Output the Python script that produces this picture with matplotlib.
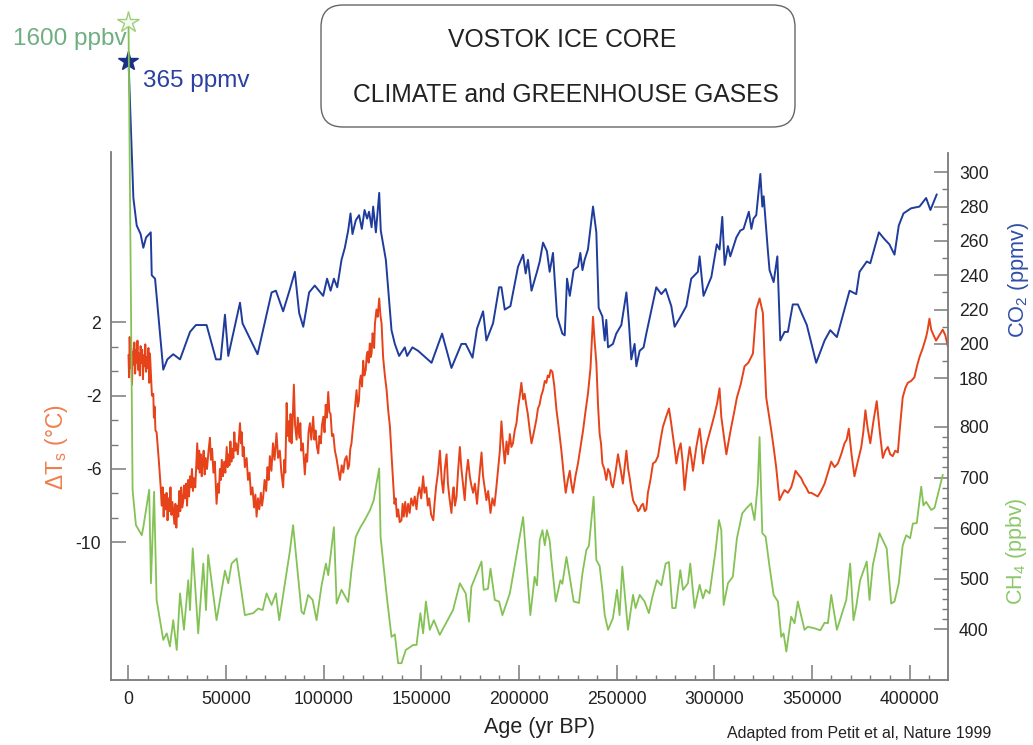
import matplotlib
matplotlib.use("Agg")
import matplotlib.pyplot as plt
from matplotlib.patches import FancyBboxPatch
from matplotlib.ticker import FixedLocator, FixedFormatter

plt.rcParams['font.family'] = ['Liberation Sans', 'DejaVu Sans']
plt.rcParams['mathtext.fontset'] = 'custom'
plt.rcParams['mathtext.rm'] = 'Liberation Sans'
plt.rcParams['axes.unicode_minus'] = False

# age in kyr BP, value
co2_data = [
    (0.0, 365), (2.5, 285), (4.2, 269), (6.2, 264), (7.6, 256), (9.0, 262), (11.4, 265), (11.9, 240),
    (13.6, 238), (17.8, 185), (19.9, 191), (22.9, 194), (26.4, 191), (31.5, 207), (34.5, 211), (40.0, 211),
    (44.8, 191), (47.2, 191), (49.4, 217), (51.1, 193), (57.1, 224), (58.4, 212), (66.1, 194), (73.3, 230),
    (75.5, 231), (79.2, 219), (82.7, 232), (85.2, 242), (87.4, 218), (89.5, 210), (92.5, 230), (95.4, 234),
    (99.7, 228), (101.7, 238), (103.5, 231), (105.2, 238), (106.9, 233), (109.1, 249), (110.8, 256),
    (112.5, 266), (113.7, 276), (114.7, 264), (116.4, 272), (118.1, 275), (119.5, 267), (120.9, 278),
    (122.2, 273), (123.2, 277), (124.5, 268), (125.3, 280), (126.7, 265), (128.4, 288), (129.2, 266),
    (131.8, 249), (134.7, 208), (136.4, 200), (138.6, 193), (141.5, 198), (142.7, 193), (145.4, 198),
    (148.3, 196), (155.2, 189), (160.6, 206), (165.4, 186), (170.5, 200), (172.7, 200), (176.2, 192),
    (178.5, 209), (181.6, 219), (183.3, 202), (186.7, 212), (189.8, 233), (191.0, 233), (192.7, 220),
    (195.6, 222), (199.5, 245), (202.1, 252), (203.4, 241), (204.6, 249), (206.4, 231), (209.2, 242),
    (210.6, 248), (212.3, 259), (214.3, 254), (215.7, 242), (217.4, 253), (219.5, 216), (222.2, 206),
    (223.4, 205), (224.6, 238), (226.0, 228), (228.0, 243), (230.2, 245), (231.4, 253), (232.5, 243),
    (233.6, 249), (235.3, 255), (237.9, 280), (239.6, 265), (240.8, 221), (242.7, 216), (243.9, 202),
    (244.7, 214), (245.6, 198), (248.1, 200), (249.8, 206), (252.4, 211), (255.0, 230), (256.3, 212),
    (257.5, 191), (259.2, 200), (260.1, 187), (261.8, 196), (263.8, 198), (265.2, 206), (270.3, 233),
    (272.9, 229), (275.1, 232), (278.0, 222), (279.7, 210), (282.3, 215), (285.7, 222), (288.2, 238),
    (291.6, 242), (292.5, 251), (294.5, 228), (298.5, 239), (301.3, 258), (302.7, 255), (304.1, 274),
    (305.3, 246), (307.0, 257), (308.2, 251), (311.3, 262), (313.3, 266), (315.0, 267), (317.7, 277),
    (319.0, 267), (320.1, 273), (321.5, 275), (323.6, 299), (324.6, 280), (325.3, 286), (327.4, 255),
    (328.3, 243), (330.4, 236), (332.3, 251), (333.8, 202), (336.0, 207), (337.7, 207), (340.2, 223),
    (342.8, 223), (347.4, 211), (352.2, 189), (356.5, 202), (359.4, 208), (362.8, 204), (369.3, 231),
    (372.7, 229), (374.4, 242), (378.1, 248), (379.9, 247), (384.3, 265), (387.2, 261), (389.7, 258),
    (392.3, 252), (394.5, 269), (396.9, 276), (400.8, 279), (405.1, 280), (408.5, 285), (410.7, 278),
    (413.9, 287),
]

temp_data = [
    (0.0, 0.2), (0.3, -1.0), (0.6, 1.2), (1.0, -0.5), (1.4, 0.6), (1.8, -1.4), (2.2, 0.4), (2.6, -0.3),
    (3.0, 0.9), (3.4, -0.8), (3.8, 0.5), (4.2, -0.2), (4.6, 1.0), (5.0, -0.6), (5.4, 0.3), (5.8, -0.9),
    (6.2, 0.7), (6.6, -0.2), (7.0, 0.5), (7.4, -1.1), (7.8, 0.2), (8.2, -0.4), (8.6, 0.8), (9.0, -0.7),
    (9.4, 0.1), (9.8, -0.5), (10.2, 0.6), (10.6, -1.3), (11.0, 0.3), (11.4, -0.6),
    (12.0, -2.0), (12.7, -1.9), (13.0, -3.2), (13.4, -2.6), (13.8, -3.9), (14.4, -4.0), (15.5, -5.5),
    (16.5, -7.0), (17.0, -8.0), (17.5, -7.0), (18.0, -8.6), (18.5, -7.4), (19.0, -8.2), (19.5, -7.3),
    (20.0, -8.8), (20.5, -7.6), (21.0, -8.3), (21.5, -7.0), (22.0, -8.5), (22.5, -7.8), (23.5, -9.0),
    (24.0, -7.9), (24.5, -9.2), (25.0, -8.0), (25.5, -8.6), (26.0, -7.2), (26.5, -8.3), (27.0, -7.0),
    (27.5, -8.1), (28.0, -7.8), (28.5, -6.9), (29.0, -7.6), (29.5, -6.8), (30.0, -8.0), (30.5, -6.6),
    (31.0, -7.5), (31.5, -6.4), (32.0, -7.0), (32.5, -6.0), (33.0, -7.2), (33.5, -6.5), (34.2, -7.0),
    (35.2, -4.6), (35.8, -6.0), (36.2, -5.0), (36.5, -6.2), (37.0, -5.2), (37.5, -6.4), (38.0, -5.6),
    (38.5, -5.0), (39.0, -6.3), (39.5, -5.4), (40.2, -6.0), (41.0, -5.0), (41.7, -4.3), (42.2, -5.5),
    (42.8, -4.9), (43.5, -6.2), (44.2, -5.6), (45.1, -7.9), (45.8, -6.8), (46.3, -7.3), (46.8, -6.0),
    (47.3, -6.6), (47.8, -5.5), (48.4, -6.4), (49.0, -5.6), (49.6, -6.2), (50.3, -4.8), (50.8, -5.9),
    (51.2, -5.2), (51.7, -5.8), (52.2, -4.5), (52.7, -5.6), (53.2, -4.9), (53.7, -5.4), (54.2, -4.0),
    (54.7, -5.0), (55.2, -4.6), (56.0, -5.2), (57.1, -3.5), (57.6, -4.6), (58.0, -4.0), (58.5, -5.3),
    (59.0, -4.8), (59.6, -5.9), (60.5, -5.4), (61.2, -6.6), (62.0, -6.2), (62.7, -7.4), (63.5, -7.0),
    (64.3, -8.1), (65.0, -7.4), (65.6, -8.6), (66.3, -7.6), (67.0, -8.2), (67.8, -7.3), (68.4, -8.0),
    (69.0, -7.5), (69.7, -6.6), (70.5, -7.2), (71.2, -5.9), (71.8, -6.6), (72.4, -5.3), (73.2, -6.1),
    (74.0, -4.6), (74.8, -5.5), (75.8, -4.05), (76.6, -5.4), (77.5, -5.0), (78.3, -6.2), (79.2, -7.0),
    (79.8, -5.5), (80.3, -6.2), (81.0, -2.4), (81.5, -4.2), (82.0, -3.4), (82.5, -4.5), (83.0, -3.0),
    (83.5, -4.6), (84.0, -3.6), (84.7, -1.4), (85.3, -3.6), (86.1, -4.4), (86.7, -3.2), (87.5, -4.3),
    (88.0, -3.5), (88.5, -5.0), (89.3, -4.6), (90.3, -6.3), (90.9, -5.2), (91.5, -5.6), (92.2, -4.0),
    (92.9, -3.5), (93.6, -4.4), (94.6, -3.15), (95.2, -4.4), (95.8, -3.9), (96.5, -4.8), (97.2, -5.15),
    (97.8, -4.2), (98.5, -4.6), (99.1, -3.6), (99.8, -3.15), (100.4, -4.0), (101.0, -2.5), (101.6, -3.2),
    (102.3, -1.8), (102.9, -2.9), (103.5, -3.0), (104.2, -4.2), (104.9, -4.1), (105.7, -5.0), (106.5, -5.4),
    (107.4, -6.0), (108.3, -6.6), (109.2, -5.8), (110.0, -6.2), (110.8, -5.5), (111.7, -5.3), (112.4, -6.0),
    (113.0, -5.8), (113.6, -4.9), (114.2, -4.6), (114.9, -3.8), (115.5, -3.2), (116.2, -2.4), (116.8, -1.7),
    (117.4, -2.6), (118.0, -2.3), (118.5, -1.2), (119.0, -0.9), (119.6, -1.5), (120.2, -0.1), (120.8, -0.9),
    (121.5, -0.6), (122.0, 0.2), (122.5, 0.4), (123.0, -0.2), (123.6, 0.85), (124.0, 0.1), (124.5, 0.3),
    (125.0, 1.4), (125.3, 1.2), (125.8, 0.6), (126.2, 1.9), (127.0, 2.7), (127.6, 2.3), (128.4, 3.3),
    (129.0, 2.4), (129.6, 1.95), (130.4, 0.1), (131.3, -0.9), (132.2, -1.7), (133.0, -2.8), (133.9, -3.7),
    (134.8, -5.4), (135.6, -6.8), (136.2, -7.9), (136.8, -7.6), (137.5, -8.6), (138.1, -8.2), (138.9, -8.9),
    (139.8, -8.8), (140.4, -7.9), (141.0, -8.6), (141.7, -7.8), (142.5, -8.6), (143.2, -7.9), (144.0, -8.4),
    (144.8, -7.6), (145.8, -8.0), (146.6, -7.5), (147.5, -8.2), (148.2, -7.4), (149.0, -7.0), (149.9, -7.6),
    (150.9, -6.4), (151.6, -7.3), (152.5, -7.0), (153.3, -8.0), (154.0, -7.6), (155.0, -8.5), (156.1, -8.8),
    (156.8, -7.8), (157.5, -7.0), (158.5, -6.2), (159.5, -5.0), (160.4, -6.6), (161.2, -7.3), (162.0, -6.0),
    (162.9, -5.2), (163.6, -6.8), (164.4, -7.6), (165.4, -8.4), (166.0, -7.4), (166.5, -7.0), (167.2, -8.0),
    (168.0, -7.5), (168.8, -6.1), (169.7, -4.8), (170.5, -6.0), (171.3, -6.8), (172.2, -7.7), (173.0, -6.3),
    (173.9, -5.5), (174.8, -6.4), (175.6, -6.9), (176.5, -7.3), (177.4, -6.8), (178.5, -7.9), (179.5, -6.6),
    (180.8, -5.1), (181.6, -6.4), (182.4, -7.0), (183.3, -7.7), (184.2, -7.2), (185.4, -8.4), (186.4, -7.6),
    (187.4, -8.0), (188.4, -7.0), (189.3, -6.0), (190.2, -5.0), (191.0, -3.4), (191.8, -4.6), (192.7, -5.7),
    (193.6, -4.5), (194.4, -5.2), (195.3, -4.1), (196.1, -4.8), (196.9, -4.6), (197.8, -3.9), (198.7, -3.5),
    (199.6, -2.6), (200.4, -2.0), (201.2, -1.3), (202.1, -2.2), (202.9, -1.9), (203.7, -2.5), (204.5, -3.0),
    (205.4, -3.8), (206.4, -4.6), (207.6, -4.0), (208.9, -3.3), (209.7, -2.7), (210.5, -2.5), (211.4, -2.0),
    (212.3, -1.7), (213.2, -1.2), (214.0, -1.3), (214.7, -0.9), (215.4, -1.0), (216.2, -0.6), (217.1, -0.7),
    (218.1, -1.5), (219.2, -2.8), (220.4, -3.8), (221.7, -5.0), (222.8, -6.2), (223.9, -7.3), (225.0, -6.6),
    (226.0, -6.1), (226.8, -6.8), (227.6, -7.3), (228.9, -6.4), (230.2, -5.7), (231.5, -4.8), (232.8, -3.9),
    (234.0, -2.9), (235.3, -1.9), (236.6, -0.5), (237.9, 2.3), (238.7, 1.0), (239.6, -0.2), (240.5, -2.6),
    (241.3, -4.1), (242.0, -4.6), (242.7, -5.7), (243.7, -6.0), (244.7, -6.6), (245.6, -6.0), (246.5, -6.2),
    (247.3, -6.8), (248.1, -7.0), (249.4, -6.2), (250.7, -5.2), (252.0, -6.0), (253.2, -6.8), (254.1, -5.9),
    (255.0, -5.0), (255.9, -6.0), (256.7, -6.5), (257.6, -7.2), (258.4, -7.7), (259.2, -7.9), (260.0, -8.0),
    (261.0, -8.3), (261.8, -8.2), (262.6, -8.0), (263.5, -7.9), (264.4, -8.3), (265.2, -8.2), (266.0, -7.3),
    (267.3, -6.6), (268.6, -5.7), (269.9, -5.6), (271.2, -5.3), (272.5, -4.4), (273.7, -3.7), (275.2, -3.2),
    (276.8, -2.7), (277.8, -3.4), (278.8, -4.2), (279.7, -4.9), (280.6, -5.7), (281.7, -5.0), (282.8, -4.6),
    (283.8, -5.6), (284.8, -7.15), (286.1, -5.8), (287.4, -4.8), (288.3, -5.4), (289.1, -6.1), (290.8, -4.8),
    (292.5, -3.8), (293.4, -4.6), (294.2, -5.7), (295.5, -4.9), (296.7, -4.4), (298.5, -3.7), (300.2, -3.0),
    (301.5, -2.4), (302.7, -1.6), (303.6, -3.15), (304.9, -4.2), (306.2, -5.2), (307.5, -4.4), (308.7, -3.7),
    (310.2, -2.9), (311.6, -2.1), (313.5, -1.4), (315.5, -0.4), (317.5, -0.2), (319.8, 0.3), (320.7, 1.6),
    (321.5, 2.7), (323.2, 3.3), (324.9, 2.5), (325.7, 0.2), (326.6, -2.1), (327.9, -3.0), (329.2, -3.9),
    (330.5, -4.9), (331.7, -5.9), (333.4, -7.7), (334.7, -7.4), (336.0, -7.15), (337.7, -7.3), (339.4, -7.0),
    (340.5, -6.6), (341.6, -6.1), (343.0, -6.3), (344.5, -6.5), (345.8, -6.8), (347.0, -7.0), (348.4, -7.3),
    (349.7, -7.3), (351.3, -7.4), (353.0, -7.5), (354.7, -7.2), (356.5, -6.8), (358.2, -6.2), (359.9, -5.6),
    (361.6, -5.9), (363.3, -5.7), (365.0, -5.2), (366.7, -4.6), (367.8, -4.4), (368.9, -3.8), (370.3, -5.2),
    (371.8, -6.4), (373.5, -5.6), (375.3, -4.8), (376.3, -4.0), (377.4, -2.8), (378.6, -3.8), (379.9, -4.6),
    (381.5, -3.4), (383.2, -2.3), (384.7, -3.9), (386.3, -5.4), (387.6, -5.0), (388.9, -4.8), (390.1, -5.2),
    (391.4, -5.3), (392.7, -5.0), (394.0, -5.1), (395.2, -3.6), (396.5, -2.1), (397.8, -1.6), (399.1, -1.3),
    (400.8, -1.2), (402.5, -1.0), (403.8, -0.4), (405.1, 0.1), (406.8, 0.6), (408.5, 1.2), (409.3, 1.6),
    (410.2, 2.2), (411.1, 1.6), (412.3, 1.3), (413.6, 1.0), (415.3, 1.3), (417.0, 1.6), (418.3, 1.3),
    (419.6, 0.7),
]

ch4_data = [
    (0.0, 1600), (2.1, 675), (3.8, 606), (6.8, 586), (7.6, 602), (10.6, 676), (11.5, 491), (13.1, 672),
    (14.4, 458), (17.8, 379), (19.6, 392), (21.2, 366), (22.9, 418), (24.7, 359), (26.4, 471), (28.4, 399),
    (30.6, 497), (31.5, 438), (32.9, 560), (35.7, 392), (38.3, 530), (39.7, 438), (40.8, 547), (45.1, 418),
    (49.4, 516), (51.1, 491), (52.8, 530), (55.4, 540), (59.6, 428), (63.9, 432), (66.4, 441), (68.7, 438),
    (70.7, 471), (73.3, 448), (75.5, 471), (77.2, 418), (80.1, 491), (82.7, 556), (84.3, 606), (88.6, 435),
    (89.8, 430), (92.0, 468), (94.3, 458), (96.3, 418), (98.9, 487), (101.1, 530), (102.3, 507),
    (105.2, 602), (106.6, 451), (109.1, 478), (112.5, 454), (114.2, 517), (116.4, 583), (118.8, 602),
    (121.0, 616), (123.6, 635), (125.6, 655), (127.0, 688), (128.4, 718), (129.1, 583), (132.1, 471),
    (134.7, 385), (136.4, 390), (138.1, 333), (139.8, 333), (142.0, 359), (145.8, 369), (147.5, 369),
    (149.5, 432), (150.9, 392), (152.3, 455), (154.3, 399), (156.4, 418), (159.4, 389), (166.2, 438),
    (169.7, 491), (172.7, 471), (174.4, 415), (175.6, 484), (180.8, 534), (181.9, 478), (184.1, 480),
    (185.4, 520), (187.6, 458), (189.8, 455), (191.5, 428), (195.3, 471), (202.1, 622), (205.8, 428),
    (208.0, 504), (209.2, 487), (210.6, 576), (212.0, 596), (213.2, 566), (214.3, 596), (215.7, 575),
    (216.6, 537), (218.8, 455), (221.2, 497), (222.2, 490), (224.3, 543), (228.0, 455), (230.7, 452),
    (232.5, 511), (234.5, 557), (235.8, 565), (238.2, 662), (239.6, 537), (241.3, 525), (242.7, 478),
    (243.9, 428), (245.6, 399), (248.1, 422), (250.2, 478), (251.5, 428), (252.9, 524), (255.8, 399),
    (258.4, 468), (259.7, 442), (261.8, 468), (264.3, 455), (266.5, 432), (268.3, 464), (270.6, 497),
    (272.9, 487), (275.1, 530), (276.8, 533), (278.5, 442), (280.2, 442), (282.6, 517), (284.0, 478),
    (286.5, 491), (287.7, 530), (289.9, 442), (292.5, 488), (294.2, 461), (295.6, 478), (297.6, 471),
    (300.7, 557), (302.4, 616), (303.6, 596), (304.8, 448), (307.0, 491), (309.5, 504), (311.6, 580),
    (314.3, 629), (316.4, 639), (318.9, 649), (320.6, 616), (322.3, 688), (323.2, 780), (324.6, 590),
    (326.3, 583), (328.3, 524), (330.4, 468), (332.6, 455), (334.3, 385), (335.5, 392), (336.9, 356),
    (339.4, 425), (341.1, 412), (342.8, 455), (346.2, 399), (347.9, 405), (351.3, 402), (354.3, 398),
    (356.5, 413), (358.2, 412), (359.9, 468), (362.8, 399), (367.6, 458), (369.6, 530), (371.3, 418),
    (372.7, 445), (374.7, 497), (378.1, 534), (379.5, 458), (381.2, 527), (382.9, 557), (384.6, 590),
    (388.3, 560), (390.6, 451), (392.3, 455), (394.5, 491), (396.5, 566), (398.3, 586), (400.3, 580),
    (401.7, 609), (403.7, 610), (406.0, 682), (407.1, 645), (408.5, 652), (411.1, 636), (412.8, 640),
    (417.0, 705),
]

temp_ticks = [2, -2, -6, -10]
temp_minor = [0.667, -0.667, -3.333, -4.667, -7.333, -8.667]
co2_ticks = [180, 200, 220, 240, 260, 280, 300]
co2_minor = [190, 210, 230, 250, 270, 290]
ch4_ticks = [400, 500, 600, 700, 800]
ch4_minor = [v for v in range(420, 800, 20) if v % 100 != 0]
age_ticks = list(range(0, 400001, 50000))
age_minor = [v for v in range(10000, 420001, 10000) if v % 50000 != 0]

c_co2 = '#1f3c9c'
c_temp = '#e6431b'
c_ch4 = '#84c255'
c_axis = '#7a7a7a'

fig = plt.figure(figsize=(10.33, 7.45), dpi=100)
ax = fig.add_axes([0.10745, 0.08725, 0.81026, 0.89933])
ax_co2 = ax.twinx()
ax_ch4 = ax.twinx()

ax.set_xlim(-8963, 419700)
ax.set_ylim(-17.51, 19.035)
ax_co2.set_ylim(4.25, 394.5)
ax_ch4.set_ylim(299.75, 1624.5)

age, val = zip(*co2_data)
ax_co2.plot([a * 1000 for a in age], val, color=c_co2, lw=1.4)
age, val = zip(*temp_data)
ax.plot([a * 1000 for a in age], val, color=c_temp, lw=1.4)
age, val = zip(*ch4_data)
ax_ch4.plot([a * 1000 for a in age], val, color=c_ch4, lw=1.3)

ax_ch4.plot([0], [1600], marker='*', ms=16, mfc='#f4faef', mec='#9ccf7c', mew=1.0, clip_on=False)
ax_co2.plot([0], [365], marker='*', ms=15, mfc='#1a2f85', mec='#1a2f85', clip_on=False)

for a in (ax, ax_co2, ax_ch4):
    for s in a.spines.values():
        s.set_visible(False)
    a.patch.set_visible(False)

ax.spines['left'].set_visible(True)
ax.spines['left'].set_bounds(-17.51, 11.29)
ax.spines['bottom'].set_visible(True)
ax_co2.spines['right'].set_visible(True)
ax_co2.spines['right'].set_bounds(4.25, 311.2)
for s in (ax.spines['left'], ax.spines['bottom'], ax_co2.spines['right']):
    s.set_color(c_axis)
    s.set_linewidth(1.3)

ax.yaxis.set_major_locator(FixedLocator(temp_ticks))
ax.yaxis.set_major_formatter(FixedFormatter([str(t) for t in temp_ticks]))
ax.yaxis.set_minor_locator(FixedLocator(temp_minor))
ax.xaxis.set_major_locator(FixedLocator(age_ticks))
ax.xaxis.set_major_formatter(FixedFormatter([str(t) for t in age_ticks]))
ax.xaxis.set_minor_locator(FixedLocator(age_minor))

ax_co2.yaxis.set_major_locator(FixedLocator(co2_ticks))
ax_co2.yaxis.set_major_formatter(FixedFormatter([str(t) for t in co2_ticks]))
ax_co2.yaxis.set_minor_locator(FixedLocator(co2_minor))
ax_ch4.yaxis.set_major_locator(FixedLocator(ch4_ticks))
ax_ch4.yaxis.set_major_formatter(FixedFormatter([str(t) for t in ch4_ticks]))
ax_ch4.yaxis.set_minor_locator(FixedLocator(ch4_minor))

ax.tick_params(axis='y', which='major', direction='in', length=11, width=1.1, color=c_axis,
               labelsize=12.7, labelcolor='#222222', pad=7)
ax.tick_params(axis='y', which='minor', direction='in', length=4.8, width=1.0, color=c_axis)
ax.tick_params(axis='x', which='major', direction='in', length=11, width=1.1, color=c_axis,
               labelsize=12.7, labelcolor='#222222', pad=8, top=False)
ax.tick_params(axis='x', which='minor', direction='in', length=3.6, width=1.0, color=c_axis, top=False)
for a in (ax_co2, ax_ch4):
    a.tick_params(axis='y', which='major', direction='in', length=10, width=1.1, color=c_axis,
                  labelsize=12.7, labelcolor='#222222', pad=8)
    a.tick_params(axis='y', which='minor', direction='in', length=4, width=1.0, color=c_axis)

fig.text(0.055, 0.40, 'ΔT$_{\\mathregular{s}}$ (°C)', rotation=90, color='#f07e4e', fontsize=16.5,
         ha='center', va='center')
fig.text(0.9855, 0.624, 'CO$_{\\mathregular{2}}$ (ppmv)', rotation=90, color='#2f4ea8', fontsize=15.7,
         ha='center', va='center')
fig.text(0.9845, 0.260, 'CH$_{\\mathregular{4}}$ (ppbv)', rotation=90, color='#8cc86a', fontsize=15.5,
         ha='center', va='center')
fig.text(0.522, 0.023, 'Age (yr BP)', fontsize=15.5, color='#222222', ha='center', va='center')
fig.text(0.960, 0.016, 'Adapted from Petit et al, Nature 1999', fontsize=11.5, color='#222222',
         ha='right', va='center')

fig.text(0.123, 1 - 45 / 745, '1600 ppbv', fontsize=17.5, color='#6fae80', ha='right', va='baseline')
fig.text(0.138, 1 - 87 / 745, '365 ppmv', fontsize=17.5, color='#2b40a0', ha='left', va='baseline')

box = FancyBboxPatch((3.21, 6.18), 4.74, 1.22, boxstyle='round,pad=0,rounding_size=0.22',
                     transform=fig.dpi_scale_trans, facecolor='white', edgecolor='#666666', lw=1.0)
fig.patches.append(box)
fig.text(0.544, 0.946, 'VOSTOK ICE CORE', fontsize=17.8, color='#222222', ha='center', va='center')
fig.text(0.548, 0.872, 'CLIMATE and GREENHOUSE GASES', fontsize=17.7, color='#222222', ha='center', va='center')

fig.savefig('out.png', dpi=100)
